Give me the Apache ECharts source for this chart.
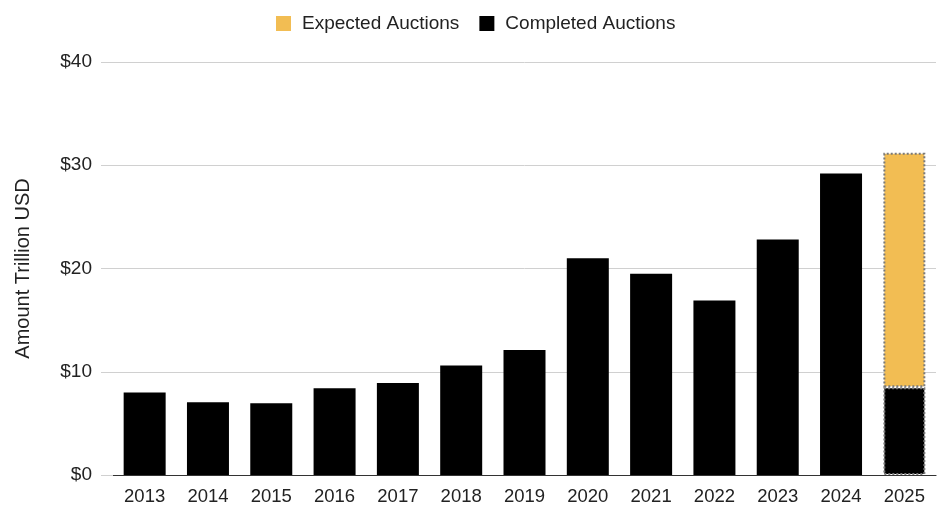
<!DOCTYPE html>
<html><head><meta charset="utf-8">
<script src="https://cdn.jsdelivr.net/npm/echarts@6/dist/echarts.min.js"></script>
<style>html,body{margin:0;padding:0;background:#fff}#c{width:939px;height:506px}</style>
</head><body><div id="c"></div>
<script>
const years = ['2013','2014','2015','2016','2017','2018','2019','2020','2021','2022','2023','2024','2025'];
const completed = [8.0, 7.05, 6.95, 8.4, 8.9, 10.6, 12.1, 21.0, 19.5, 16.9, 22.8, 29.2, 8.5];
const expected = [null, null, null, null, null, null, null, null, null, null, null, null, 22.7];
const yTicks = [0, 10, 20, 30, 40];

const dotted = {borderType:'dotted', borderColor:'#7a7a7a', borderWidth:2};
const completedData = completed.map((v,i)=> i===years.length-1 ? {value:v, itemStyle:Object.assign({color:'#000'}, dotted)} : v);
const expectedData = expected.map(v => v==null ? null : {value:v, itemStyle:Object.assign({color:'#F2BD53'}, dotted)});

const chart = echarts.init(document.getElementById('c'));
chart.setOption({
  animation:false,
  textStyle:{fontFamily:'Liberation Sans, Arial, sans-serif'},
  legend:{
    data:['Expected Auctions','Completed Auctions'],
    top:9, left:271, itemWidth:15, itemHeight:15, itemGap:20,
    icon:'rect',
    textStyle:{fontSize:19, color:'#222', padding:[0,0,0,6]}
  },
  grid:{left:113, right:3, top:62, bottom:30},
  xAxis:{
    type:'category', data:years,
    axisTick:{show:false},
    axisLine:{lineStyle:{color:'#333', width:1.2}},
    axisLabel:{fontSize:18.5, color:'#222', margin:12}
  },
  yAxis:{
    type:'value', min:yTicks[0], max:yTicks[yTicks.length-1], interval:10,
    name:'Amount Trillion USD', nameLocation:'middle', nameGap:80, nameRotate:90,
    nameTextStyle:{fontSize:20, color:'#222'},
    axisLine:{show:false},
    axisTick:{show:true, length:12, lineStyle:{color:'#d0d0d0'}},
    splitLine:{lineStyle:{color:'#d0d0d0'}},
    axisLabel:{fontSize:19, color:'#222', margin:21, formatter:v=>'$'+v}
  },
  series:[
    {name:'Completed Auctions', type:'bar', stack:'a', barWidth:42, data:completedData, itemStyle:{color:'#000'}},
    {name:'Expected Auctions', type:'bar', stack:'a', barWidth:42, data:expectedData, itemStyle:{color:'#F2BD53'}}
  ]
});
</script></body></html>
